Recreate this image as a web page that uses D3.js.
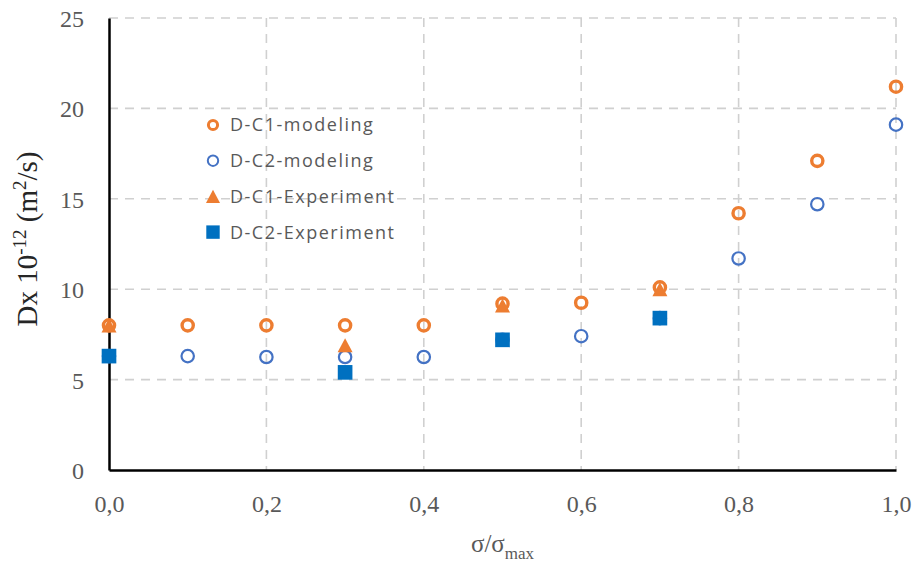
<!DOCTYPE html>
<html>
<head>
<meta charset="utf-8">
<script src="https://cdn.jsdelivr.net/npm/d3@7"></script>
<style>
  body { margin: 0; background: #fff; }
  svg { display: block; }
</style>
</head>
<body>
<div id="chart"></div>
<script>
// ------ Data ------
const xValues = [0.0, 0.1, 0.2, 0.3, 0.4, 0.5, 0.6, 0.7, 0.8, 0.9, 1.0];
const c1Modeling = [8.0, 8.0, 8.0, 8.0, 8.0, 9.2, 9.25, 10.1, 14.2, 17.1, 21.2];
const c2Modeling = [6.3, 6.3, 6.25, 6.25, 6.25, 7.2, 7.4, 8.4, 11.7, 14.7, 19.1];
const expX = [0.0, 0.3, 0.5, 0.7];
const c1Experiment = [8.0, 6.9, 9.1, 10.0];
const c2Experiment = [6.3, 5.4, 7.2, 8.4];
const xTicks = [0, 0.2, 0.4, 0.6, 0.8, 1.0];
const yTicks = [0, 5, 10, 15, 20, 25];

const width = 919, height = 564;
const margin = { top: 18, right: 23, bottom: 94, left: 109 };
const innerW = width - margin.left - margin.right;
const innerH = height - margin.top - margin.bottom;

const svg = d3.select("#chart").append("svg")
  .attr("width", width)
  .attr("height", height);

const g = svg.append("g")
  .attr("transform", `translate(${margin.left},${margin.top})`);

const x = d3.scaleLinear().domain([0, 1]).range([0, innerW]);
const y = d3.scaleLinear().domain([0, 25]).range([innerH, 0]);

const orange = "#ED7D31", blueCircle = "#4472C4", blueSquare = "#0070C0";
const tickColor = "#595959";

// grid
g.append("g").selectAll("line")
  .data(yTicks.filter(d => d > 0))
  .join("line")
  .attr("x1", 0).attr("x2", innerW)
  .attr("y1", d => y(d)).attr("y2", d => y(d))
  .attr("stroke", "#d0d0d0").attr("stroke-width", 1.6)
  .attr("stroke-dasharray", "9,7");

g.append("g").selectAll("line")
  .data(xTicks.filter(d => d > 0))
  .join("line")
  .attr("x1", d => x(d)).attr("x2", d => x(d))
  .attr("y1", 0).attr("y2", innerH)
  .attr("stroke", "#d0d0d0").attr("stroke-width", 1.6)
  .attr("stroke-dasharray", "9,7");

// axes
const xAxis = g.append("g")
  .attr("transform", `translate(0,${innerH})`)
  .call(d3.axisBottom(x).tickValues(xTicks).tickSize(0).tickPadding(25)
    .tickFormat(d => d3.format(".1f")(d).replace(".", ",")));
const yAxis = g.append("g")
  .call(d3.axisLeft(y).tickValues(yTicks).tickSize(0).tickPadding(25));

[xAxis, yAxis].forEach(a => {
  a.select(".domain").attr("stroke", "#000").attr("stroke-width", 2.5);
  a.selectAll("text")
    .attr("fill", tickColor)
    .style("font-family", "'Liberation Serif', serif")
    .style("font-size", "24px");
});
yAxis.selectAll("text").attr("dy", "0.35em");

// axis titles
const yTitle = svg.append("text")
  .attr("transform", `translate(37,239) rotate(-90)`)
  .attr("text-anchor", "middle")
  .attr("fill", "#262626")
  .style("font-family", "'Liberation Serif', serif")
  .style("font-size", "29px");
yTitle.append("tspan").text("Dx 10");
yTitle.append("tspan").attr("dy", -11).style("font-size", "19px").text("-12");
yTitle.append("tspan").attr("dy", 11).text(" (m");
yTitle.append("tspan").attr("dy", -11).style("font-size", "19px").text("2");
yTitle.append("tspan").attr("dy", 11).text("/s)");

const xTitle = svg.append("text")
  .attr("x", margin.left + innerW / 2)
  .attr("y", 552)
  .attr("text-anchor", "middle")
  .attr("fill", tickColor)
  .style("font-family", "'Liberation Serif', serif")
  .style("font-size", "25px");
xTitle.append("tspan").text("σ/σ");
xTitle.append("tspan").attr("dy", 7).style("font-size", "17px").text("max");

// markers
const tallTriangle = {
  draw(ctx, size) {
    const w = Math.sqrt(size) / 2, h = Math.sqrt(size) * 0.47;
    ctx.moveTo(0, -h);
    ctx.lineTo(w, h);
    ctx.lineTo(-w, h);
    ctx.closePath();
  }
};
const triangle = d3.symbol().type(tallTriangle).size(225);
const square = d3.symbol().type(d3.symbolSquare).size(215);

g.append("g").selectAll("circle")
  .data(xValues.map((v, i) => ({ x: v, y: c1Modeling[i] })))
  .join("circle")
  .attr("cx", d => x(d.x)).attr("cy", d => y(d.y)).attr("r", 5.6)
  .attr("fill", "none").attr("stroke", orange).attr("stroke-width", 3.4);

g.append("g").selectAll("circle")
  .data(xValues.map((v, i) => ({ x: v, y: c2Modeling[i] })))
  .join("circle")
  .attr("cx", d => x(d.x)).attr("cy", d => y(d.y)).attr("r", 6.2)
  .attr("fill", "none").attr("stroke", blueCircle).attr("stroke-width", 2.2);

g.append("g").selectAll("path")
  .data(expX.map((v, i) => ({ x: v, y: c1Experiment[i] })))
  .join("path")
  .attr("d", triangle)
  .attr("transform", d => `translate(${x(d.x)},${y(d.y)})`)
  .attr("fill", orange);

g.append("g").selectAll("path")
  .data(expX.map((v, i) => ({ x: v, y: c2Experiment[i] })))
  .join("path")
  .attr("d", square)
  .attr("transform", d => `translate(${x(d.x)},${y(d.y)})`)
  .attr("fill", blueSquare);

// legend
const legendItems = [
  { label: "D-C1-modeling", kind: "c1" },
  { label: "D-C2-modeling", kind: "c2" },
  { label: "D-C1-Experiment", kind: "tri" },
  { label: "D-C2-Experiment", kind: "sq" }
];
const legend = svg.append("g").attr("transform", "translate(213,125)");
const rows = legend.selectAll("g")
  .data(legendItems)
  .join("g")
  .attr("transform", (d, i) => `translate(0,${i * 35.7})`);

rows.each(function(d) {
  const r = d3.select(this);
  if (d.kind === "c1") {
    r.append("circle").attr("r", 4.6).attr("fill", "none").attr("stroke", orange).attr("stroke-width", 3);
  } else if (d.kind === "c2") {
    r.append("circle").attr("r", 5.2).attr("fill", "none").attr("stroke", blueCircle).attr("stroke-width", 2);
  } else if (d.kind === "tri") {
    r.append("path").attr("d", d3.symbol().type(tallTriangle).size(196)).attr("fill", orange);
  } else {
    r.append("path").attr("d", d3.symbol().type(d3.symbolSquare).size(180)).attr("fill", blueSquare);
  }
});

rows.append("text")
  .attr("x", 17)
  .attr("dy", "0.36em")
  .attr("fill", tickColor)
  .style("font-family", "'Open Sans', sans-serif")
  .style("font-size", "18px")
  .style("letter-spacing", "1.5px")
  .text(d => d.label);
</script>
</body>
</html>
